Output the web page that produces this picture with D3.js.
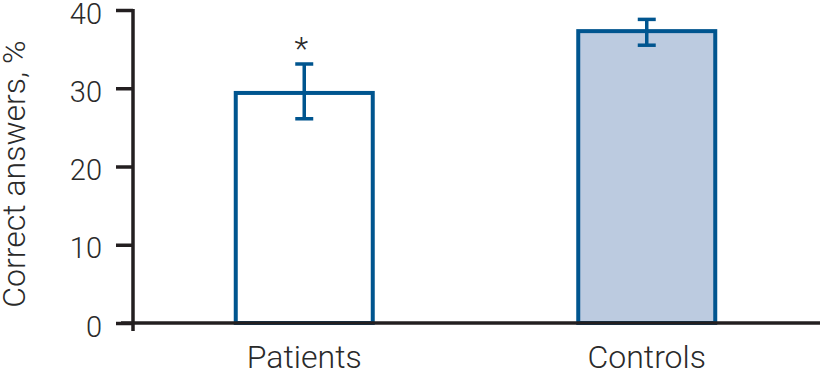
<!DOCTYPE html>
<html>
<head>
<meta charset="utf-8">
<script src="https://cdn.jsdelivr.net/npm/d3@7"></script>
<style>
  body { margin: 0; background: #fff; }
  svg text { font-family: Roboto, "Liberation Sans", sans-serif; font-weight: 300; fill: #2a2a2a; }
</style>
</head>
<body>
<div id="chart"></div>
<script>
const groups = ["Patients", "Controls"];
const means = [29.4, 37.3];
const errLow = [26.1, 35.5];
const errHigh = [33.1, 38.8];
const marked = [true, false];
const fills = ["#ffffff", "#bccbe0"];
const yTicks = [0, 10, 20, 30, 40];

const W = 820, H = 371;
const blue = "#00558f";

const svg = d3.select("#chart").append("svg")
    .attr("width", W)
    .attr("height", H);

const x = d3.scaleBand()
    .domain(groups)
    .range([133, 818])
    .paddingInner(0.6)
    .paddingOuter(0.3);

const y = d3.scaleLinear()
    .domain([0, 40])
    .range([323, 10]);

// bars
svg.append("g")
    .selectAll("rect")
    .data(groups)
    .join("rect")
    .attr("x", d => x(d))
    .attr("y", (d, i) => y(means[i]))
    .attr("width", x.bandwidth())
    .attr("height", (d, i) => y(0) - y(means[i]))
    .style("fill", (d, i) => fills[i])
    .style("stroke", blue)
    .style("stroke-width", 4);

// error bars
const err = svg.append("g").style("stroke", blue).style("stroke-width", 3.5);
groups.forEach((g, i) => {
    const cx = x(g) + x.bandwidth() / 2;
    err.append("line").attr("x1", cx).attr("x2", cx).attr("y1", y(errLow[i])).attr("y2", y(errHigh[i]));
    err.append("line").attr("x1", cx - 9).attr("x2", cx + 9).attr("y1", y(errLow[i])).attr("y2", y(errLow[i]));
    err.append("line").attr("x1", cx - 9).attr("x2", cx + 9).attr("y1", y(errHigh[i])).attr("y2", y(errHigh[i]));
    if (marked[i]) {
        svg.append("text")
            .attr("x", cx - 3)
            .attr("y", y(errHigh[i]) - 5)
            .attr("text-anchor", "middle")
            .style("font-size", "32px")
            .text("*");
    }
});

// y axis
const yAxis = svg.append("g")
    .attr("transform", "translate(133,0)")
    .call(d3.axisLeft(y).tickValues(yTicks).tickSize(17).tickPadding(14));
yAxis.select(".domain").remove();
yAxis.selectAll(".tick line").style("stroke", "#231f20").style("stroke-width", 3.5);
yAxis.selectAll(".tick text").style("font-size", "29px").attr("dy", "0.45em");
yAxis.append("line")
    .attr("x1", 0).attr("x2", 0)
    .attr("y1", y(40) - 1).attr("y2", y(0) + 8)
    .style("stroke", "#231f20").style("stroke-width", 3.5);

// x axis line
svg.append("line")
    .attr("x1", 121).attr("x2", 820)
    .attr("y1", y(0)).attr("y2", y(0))
    .style("stroke", "#231f20").style("stroke-width", 3.5);

// category labels
svg.append("g")
    .selectAll("text")
    .data(groups)
    .join("text")
    .attr("x", d => x(d) + x.bandwidth() / 2)
    .attr("y", 368)
    .attr("text-anchor", "middle")
    .style("font-size", "32px")
    .text(d => d);

// y label
svg.append("text")
    .attr("transform", "translate(25,174) rotate(-90)")
    .attr("text-anchor", "middle")
    .style("font-size", "32px")
    .text("Correct answers, %");
</script>
</body>
</html>
